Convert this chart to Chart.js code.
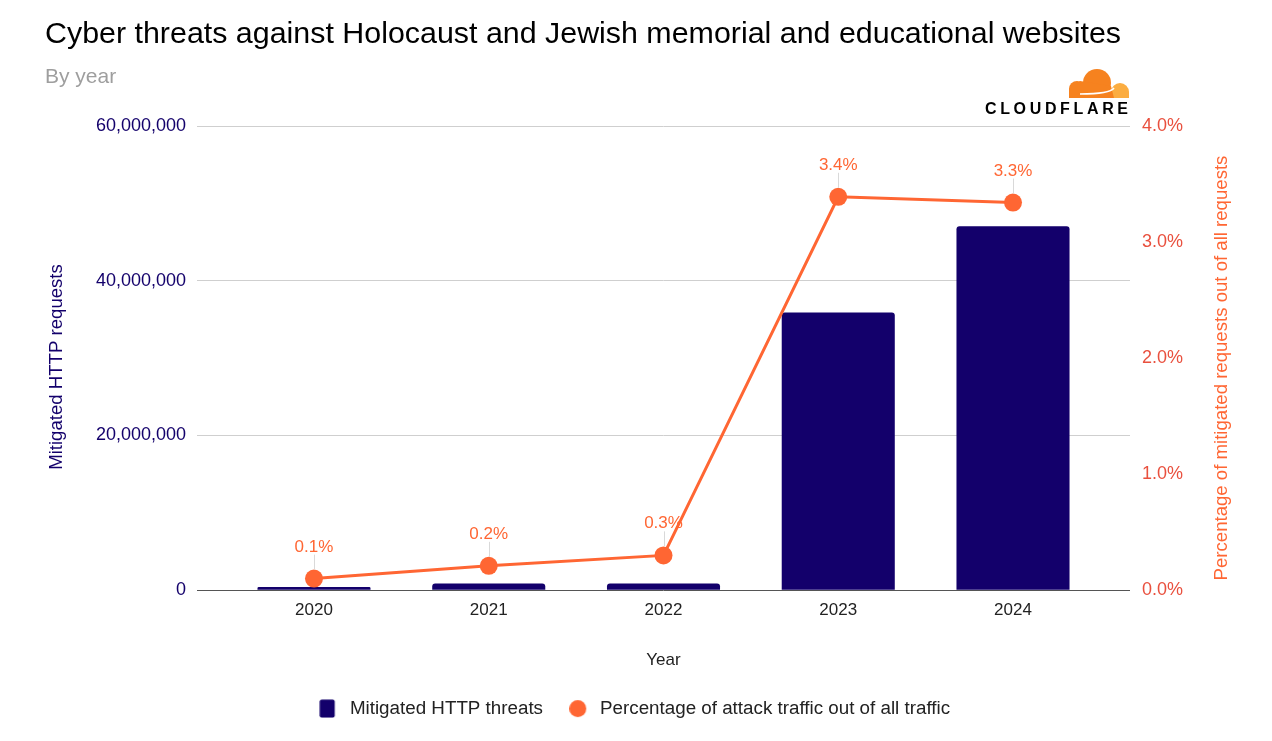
<!DOCTYPE html>
<html><head><meta charset="utf-8">
<script src="https://cdn.jsdelivr.net/npm/chart.js@4"></script>
<style>html,body{margin:0;padding:0;background:#fff}#wrap{width:1272px;height:741px;position:relative}</style>
</head><body><div id="wrap"><canvas id="c" width="1272" height="741"></canvas></div>
<script>
const years = ['2020','2021','2022','2023','2024'];
const mitigatedRequests = [400000, 850000, 850000, 35900000, 47050000];
const attackPercent = [0.10, 0.21, 0.30, 3.39, 3.34];
const percentLabels = ['0.1%','0.2%','0.3%','3.4%','3.3%'];
const leftTicks = [0, 20000000, 40000000, 60000000];
const rightTicks = [0, 1, 2, 3, 4];

const FONT = '"Liberation Sans", Arial, sans-serif';
const NAVY = '#13006b';
const ORANGE = '#ff6633';

function legendIcon(kind) {
  const c = document.createElement('canvas');
  c.width = 24; c.height = 19;
  const g = c.getContext('2d');
  if (kind === 'rect') {
    g.fillStyle = NAVY;
    g.beginPath();
    if (g.roundRect) g.roundRect(0.5, 0.5, 15, 18, 2); else g.rect(0.5, 0.5, 15, 18);
    g.fill();
  } else {
    g.fillStyle = ORANGE;
    g.beginPath();
    g.arc(8.5, 9.5, 8.5, 0, Math.PI * 2);
    g.fill();
  }
  return c;
}
const legendIcons = [legendIcon('rect'), legendIcon('circle')];

const overlay = {
  id: 'overlay',
  afterDatasetsDraw(chart) {
    const ctx = chart.ctx;
    const meta = chart.getDatasetMeta(1);
    ctx.save();
    ctx.font = '17px ' + FONT;
    ctx.textAlign = 'center';
    ctx.textBaseline = 'alphabetic';
    meta.data.forEach((pt, i) => {
      const x = pt.x, y = pt.y;
      ctx.strokeStyle = '#d9d9d9';
      ctx.lineWidth = 1;
      ctx.beginPath();
      ctx.moveTo(Math.round(x) + 0.5, y - 9);
      ctx.lineTo(Math.round(x) + 0.5, y - 24);
      ctx.stroke();
      ctx.fillStyle = ORANGE;
      ctx.fillText(percentLabels[i], x, y - 27);
    });
    ctx.restore();
  },
  afterDraw(chart) {
    const ctx = chart.ctx;
    ctx.save();
    ctx.fillStyle = '#000';
    ctx.font = '30.4px ' + FONT;
    ctx.textAlign = 'left';
    ctx.textBaseline = 'middle';
    ctx.fillText('Cyber threats against Holocaust and Jewish memorial and educational websites', 45, 35);
    ctx.fillStyle = '#9e9e9e';
    ctx.font = '21px ' + FONT;
    ctx.fillText('By year', 45, 77);
    ctx.restore();
    // Axis titles (read bottom-to-top)
    ctx.save();
    ctx.translate(57, 367);
    ctx.rotate(-Math.PI / 2);
    ctx.textAlign = 'center';
    ctx.textBaseline = 'middle';
    ctx.fillStyle = NAVY;
    ctx.font = '18.6px ' + FONT;
    ctx.fillText('Mitigated HTTP requests', 0, 0);
    ctx.restore();
    ctx.save();
    ctx.translate(1222, 368);
    ctx.rotate(-Math.PI / 2);
    ctx.textAlign = 'center';
    ctx.textBaseline = 'middle';
    ctx.fillStyle = ORANGE;
    ctx.font = '18.6px ' + FONT;
    ctx.fillText('Percentage of mitigated requests out of all requests', 0, 0);
    ctx.restore();
    // Cloudflare logo
    ctx.save();
    ctx.fillStyle = '#fbad41';
    ctx.beginPath();
    ctx.arc(1120, 92, 9, Math.PI, 0);
    ctx.lineTo(1129, 98);
    ctx.lineTo(1111, 98);
    ctx.closePath();
    ctx.fill();
    ctx.fillStyle = '#f6821f';
    ctx.beginPath();
    ctx.arc(1097, 83, 14, 0, Math.PI * 2);
    ctx.fill();
    ctx.beginPath();
    ctx.arc(1077, 89, 8, 0, Math.PI * 2);
    ctx.fill();
    ctx.beginPath();
    ctx.moveTo(1069, 89);
    ctx.lineTo(1069, 98);
    ctx.lineTo(1114, 98);
    ctx.lineTo(1111, 86);
    ctx.lineTo(1080, 81);
    ctx.closePath();
    ctx.fill();
    ctx.strokeStyle = '#fff';
    ctx.lineWidth = 1.5;
    ctx.beginPath();
    ctx.moveTo(1080, 94);
    ctx.quadraticCurveTo(1110, 94, 1114, 88);
    ctx.stroke();
    ctx.fillStyle = '#000';
    ctx.font = 'bold 16px ' + FONT;
    ctx.textAlign = 'left';
    ctx.textBaseline = 'middle';
    const word = 'CLOUDFLARE';
    let total = 0;
    for (const ch of word) total += ctx.measureText(ch).width;
    const sp = (1128 - 985 - total) / (word.length - 1);
    let xx = 985;
    for (const ch of word) { ctx.fillText(ch, xx, 110); xx += ctx.measureText(ch).width + sp; }
    ctx.restore();
  }
};

new Chart(document.getElementById('c'), {
  type: 'bar',
  data: {
    datasets: [
      {
        label: 'Mitigated HTTP threats',
        data: years.map((y, i) => ({x: i, y: mitigatedRequests[i]})),
        backgroundColor: NAVY,
        borderRadius: {topLeft: 3, topRight: 3},
        borderSkipped: 'bottom',
        categoryPercentage: 1,
        barPercentage: 0.647,
        yAxisID: 'y',
        order: 2
      },
      {
        type: 'line',
        label: 'Percentage of attack traffic out of all traffic',
        data: years.map((y, i) => ({x: i, y: attackPercent[i]})),
        borderColor: ORANGE,
        backgroundColor: ORANGE,
        borderWidth: 3,
        pointRadius: 9,
        pointHoverRadius: 9,
        pointBorderWidth: 0,
        pointStyle: 'circle',
        yAxisID: 'y1',
        tension: 0,
        order: 1
      }
    ]
  },
  options: {
    responsive: false,
    animation: false,
    layout: {padding: {top: 126, left: 0, right: 0, bottom: 13}},
    plugins: {
      title: {display: false},
      tooltip: {enabled: false},
      legend: {
        position: 'bottom',
        labels: {
          usePointStyle: true,
          boxHeight: 18,
          boxWidth: 18.6,
          padding: 29,
          color: '#222',
          font: {family: FONT, size: 18.8},
          sort: (a, b) => a.datasetIndex - b.datasetIndex,
          generateLabels: (chart) => {
            const items = Chart.defaults.plugins.legend.labels.generateLabels(chart);
            items.forEach(it => { it.pointStyle = legendIcons[it.datasetIndex]; it.lineWidth = 0; });
            return items;
          }
        }
      }
    },
    scales: {
      x: {
        type: 'linear',
        offset: false,
        min: -0.6695,
        max: 4.6695,
        afterBuildTicks: (s) => { s.ticks = years.map((y, i) => ({value: i})); },
        afterFit: (s) => { s.height = 80; },
        grid: {display: false, drawTicks: false},
        border: {display: false},
        ticks: {
          callback: (v) => years[v] ?? '',
          color: '#222',
          padding: 10,
          maxRotation: 0,
          autoSkip: false,
          font: {family: FONT, size: 17}
        },
        title: {
          display: true, text: 'Year', color: '#222',
          font: {family: FONT, size: 17},
          padding: {top: 4, bottom: 0}
        }
      },
      y: {
        position: 'left',
        min: 0, max: 60000000,
        afterBuildTicks: (s) => { s.ticks = leftTicks.map(v => ({value: v})); },
        afterFit: (s) => { s.width = 197; },
        grid: {
          drawTicks: false,
          color: (c) => c.tick && c.tick.value === 0 ? '#555' : '#cfcfcf',
          lineWidth: 1
        },
        border: {display: false},
        ticks: {
          callback: (v) => v.toLocaleString('en-US'),
          color: NAVY,
          padding: 11,
          font: {family: FONT, size: 18}
        },
        title: {display: false}
      },
      y1: {
        position: 'right',
        min: 0, max: 4,
        afterBuildTicks: (s) => { s.ticks = rightTicks.map(v => ({value: v})); },
        afterFit: (s) => { s.width = 142; },
        grid: {drawOnChartArea: false, drawTicks: false},
        border: {display: false},
        ticks: {
          callback: (v) => v.toFixed(1) + '%',
          color: '#e9503e',
          padding: 12,
          font: {family: FONT, size: 18}
        }
      }
    }
  },
  plugins: [overlay]
});
</script></body></html>
